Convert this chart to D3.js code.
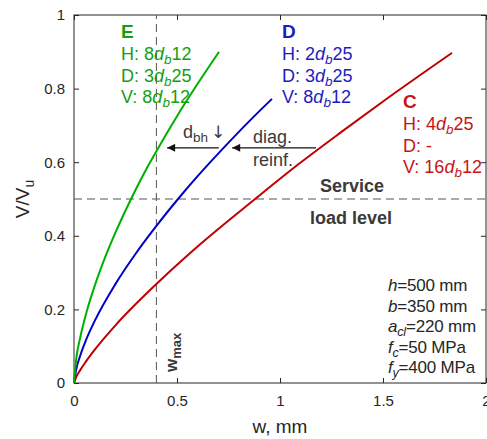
<!DOCTYPE html>
<html>
<head>
<meta charset="utf-8">
<script src="https://cdn.jsdelivr.net/npm/d3@7/dist/d3.min.js"></script>
<style>
  html, body { margin: 0; padding: 0; background: #fff; }
  svg { display: block; font-family: "Liberation Sans", Arial, Helvetica, sans-serif; }
</style>
</head>
<body>
<svg id="chart" width="487" height="439"></svg>
<script>
// Crack width w (mm) versus normalised shear V/Vu for three beams
const wE = [0, 0.01, 0.03, 0.06, 0.1, 0.15, 0.2, 0.277, 0.35, 0.4, 0.5, 0.6, 0.704];
const vE = [0, 0.062, 0.123, 0.191, 0.263, 0.340, 0.407, 0.500, 0.580, 0.630, 0.725, 0.813, 0.900];

const wD = [0, 0.01, 0.03, 0.06, 0.1, 0.2, 0.3, 0.4, 0.505, 0.6, 0.733, 0.85, 0.961];
const vD = [0, 0.035, 0.074, 0.119, 0.168, 0.268, 0.352, 0.427, 0.500, 0.562, 0.643, 0.711, 0.772];

const wC = [0, 0.01, 0.03, 0.06, 0.1, 0.2, 0.4, 0.6, 0.879, 1.1, 1.3, 1.5, 1.835];
const vC = [0, 0.015, 0.035, 0.060, 0.090, 0.156, 0.269, 0.371, 0.500, 0.599, 0.683, 0.765, 0.897];

const xTicks = [0, 0.5, 1, 1.5, 2];
const xTickLabels = ["0", "0.5", "1", "1.5", "2"];
const yTicks = [0, 0.2, 0.4, 0.6, 0.8, 1];
const yTickLabels = ["0", "0.2", "0.4", "0.6", "0.8", "1"];

const serviceLevel = 0.5;   // V/Vu
const wMax = 0.4;           // mm

// Beam reinforcement descriptions: [prefix, bars, bar size]
const beamE = [["H: ", "8", "12"], ["D: ", "3", "25"], ["V: ", "8", "12"]];
const beamD = [["H: ", "2", "25"], ["D: ", "3", "25"], ["V: ", "8", "12"]];
const beamC = [["H: ", "4", "25"], ["D: -", null, null], ["V: ", "16", "12"]];

const svg = d3.select("#chart");
const ink = "#262626";

const x = d3.scaleLinear().domain([0, 2]).range([74, 486]);
const y = d3.scaleLinear().domain([0, 1]).range([383, 15]);

// Axes with inward ticks
const gx = svg.append("g").attr("transform", `translate(0,${y(0)})`)
  .call(d3.axisBottom(x).tickValues(xTicks).tickFormat((d, i) => xTickLabels[i]).tickSize(-5).tickPadding(12));
const gy = svg.append("g").attr("transform", `translate(${x(0)},0)`)
  .call(d3.axisLeft(y).tickValues(yTicks).tickFormat((d, i) => yTickLabels[i]).tickSize(-5).tickPadding(9));
const gt = svg.append("g").attr("transform", `translate(0,${y(1)})`)
  .call(d3.axisTop(x).tickValues(xTicks).tickFormat("").tickSize(-5));
const gr = svg.append("g").attr("transform", `translate(${x(2)},0)`)
  .call(d3.axisRight(y).tickValues(yTicks).tickFormat("").tickSize(-5));
[gx, gy, gt, gr].forEach(g => {
  g.select(".domain").remove();
  g.selectAll("line").attr("stroke", ink);
  g.selectAll("text").attr("fill", ink).style("font-size", "15px")
    .style("font-family", "'Liberation Sans', Arial, sans-serif");
});

svg.append("rect")
  .attr("x", x(0)).attr("y", y(1))
  .attr("width", x(2) - x(0)).attr("height", y(0) - y(1))
  .attr("fill", "none").attr("stroke", ink).attr("stroke-width", 1);

// Axis titles
svg.append("text").attr("x", (x(0) + x(2)) / 2).attr("y", 433)
  .attr("text-anchor", "middle").attr("fill", ink).style("font-size", "19px")
  .text("w, mm");
const yl = svg.append("text")
  .attr("transform", `translate(29,${(y(0) + y(1)) / 2}) rotate(-90)`)
  .attr("text-anchor", "middle").attr("fill", ink).style("font-size", "19px");
yl.append("tspan").text("V/V");
yl.append("tspan").attr("dy", 5).style("font-size", "14px").text("u");

// Reference lines
const dash = "8,5";
svg.append("line")
  .attr("x1", x(0)).attr("x2", x(2)).attr("y1", y(serviceLevel)).attr("y2", y(serviceLevel))
  .attr("stroke", "#555").attr("stroke-width", 1).attr("stroke-dasharray", dash);
svg.append("line")
  .attr("x1", x(wMax)).attr("x2", x(wMax)).attr("y1", y(0)).attr("y2", y(1))
  .attr("stroke", "#555").attr("stroke-width", 1).attr("stroke-dasharray", dash);

// Curves
const line = d3.line().x(d => x(d[0])).y(d => y(d[1])).curve(d3.curveMonotoneX);
const curves = [
  { w: wC, v: vC, color: "#c00000" },
  { w: wD, v: vD, color: "#0000c8" },
  { w: wE, v: vE, color: "#00b000" }
];
curves.forEach(c => {
  svg.append("path")
    .datum(c.w.map((w, i) => [w, c.v[i]]))
    .attr("d", line)
    .attr("fill", "none").attr("stroke", c.color).attr("stroke-width", 2);
});

// Beam labels
function beamLabel(x0, yTitle, title, rows, color) {
  svg.append("text").attr("x", x0).attr("y", yTitle).attr("fill", color)
    .style("font-size", "19px").style("font-weight", "bold").text(title);
  rows.forEach((r, i) => {
    const t = svg.append("text").attr("x", x0).attr("y", yTitle + 22 + i * 21.5)
      .attr("fill", color).style("font-size", "18px");
    t.append("tspan").text(r[0]);
    if (r[1] !== null) {
      t.append("tspan").text(r[1]);
      t.append("tspan").style("font-style", "italic").text("d");
      t.append("tspan").attr("dy", 4).style("font-style", "italic").style("font-size", "13.5px").text("b");
      t.append("tspan").attr("dy", -4).text(r[2]);
    }
  });
}
beamLabel(121, 38, "E", beamE, "#12a012");
beamLabel(282, 38, "D", beamD, "#1c1cc0");
beamLabel(403, 108, "C", beamC, "#c81414");

// Annotation arrows
const defs = svg.append("defs");
defs.append("marker").attr("id", "head").attr("viewBox", "0 0 10 10")
  .attr("refX", 10).attr("refY", 5).attr("markerWidth", 11).attr("markerHeight", 8)
  .attr("markerUnits", "userSpaceOnUse").attr("orient", "auto")
  .append("path").attr("d", "M0,0 L10,5 L0,10 Z").attr("fill", "#111");

const arrowV = 0.639;
[[0.703, 0.452], [1.175, 0.768]].forEach(([a, b]) => {
  svg.append("line")
    .attr("x1", x(a)).attr("x2", x(b)).attr("y1", y(arrowV)).attr("y2", y(arrowV))
    .attr("stroke", "#111").attr("stroke-width", 1.3).attr("marker-end", "url(#head)");
});

const grey = "#3a3a3a";
const dbh = svg.append("text").attr("x", 183).attr("y", 138).attr("fill", grey).style("font-size", "18px");
dbh.append("tspan").text("d");
dbh.append("tspan").attr("dy", 4).style("font-size", "13.5px").text("bh");
dbh.append("tspan").attr("dy", -4).attr("dx", 3)
  .style("font-family", "'DejaVu Sans', sans-serif").style("font-size", "17px").text("↓");
svg.append("text").attr("x", 253).attr("y", 143).attr("fill", grey).style("font-size", "18px").text("diag.");
svg.append("text").attr("x", 253).attr("y", 166).attr("fill", grey).style("font-size", "18px").text("reinf.");

svg.append("text").attr("x", 320).attr("y", 192).attr("fill", grey)
  .style("font-size", "18px").style("font-weight", "bold").text("Service");
svg.append("text").attr("x", 310).attr("y", 224).attr("fill", grey)
  .style("font-size", "18px").style("font-weight", "bold").text("load level");

const wm = svg.append("text").attr("transform", "translate(177,372) rotate(-90)")
  .attr("fill", grey).style("font-size", "17px").style("font-weight", "bold");
wm.append("tspan").text("w");
wm.append("tspan").attr("dy", 4).style("font-size", "13px").text("max");

// Section and material properties
const props = [
  [["h", true, false], ["=500 mm", false, false]],
  [["b", true, false], ["=350 mm", false, false]],
  [["a", true, false], ["cl", true, true], ["=220 mm", false, false]],
  [["f", true, false], ["c", true, true], ["=50 MPa", false, false]],
  [["f", true, false], ["y", true, true], ["=400 MPa", false, false]]
];
props.forEach((row, i) => {
  const t = svg.append("text").attr("x", 388).attr("y", 291 + i * 20.5)
    .attr("fill", ink).style("font-size", "17px").style("letter-spacing", "-0.2px");
  let shifted = false;
  row.forEach(([s, it, sub]) => {
    const ts = t.append("tspan").text(s);
    if (it) ts.style("font-style", "italic");
    if (sub) { ts.attr("dy", 4).style("font-size", "12.5px"); shifted = true; }
    else if (shifted) { ts.attr("dy", -4); shifted = false; }
  });
});
</script>
</body>
</html>
